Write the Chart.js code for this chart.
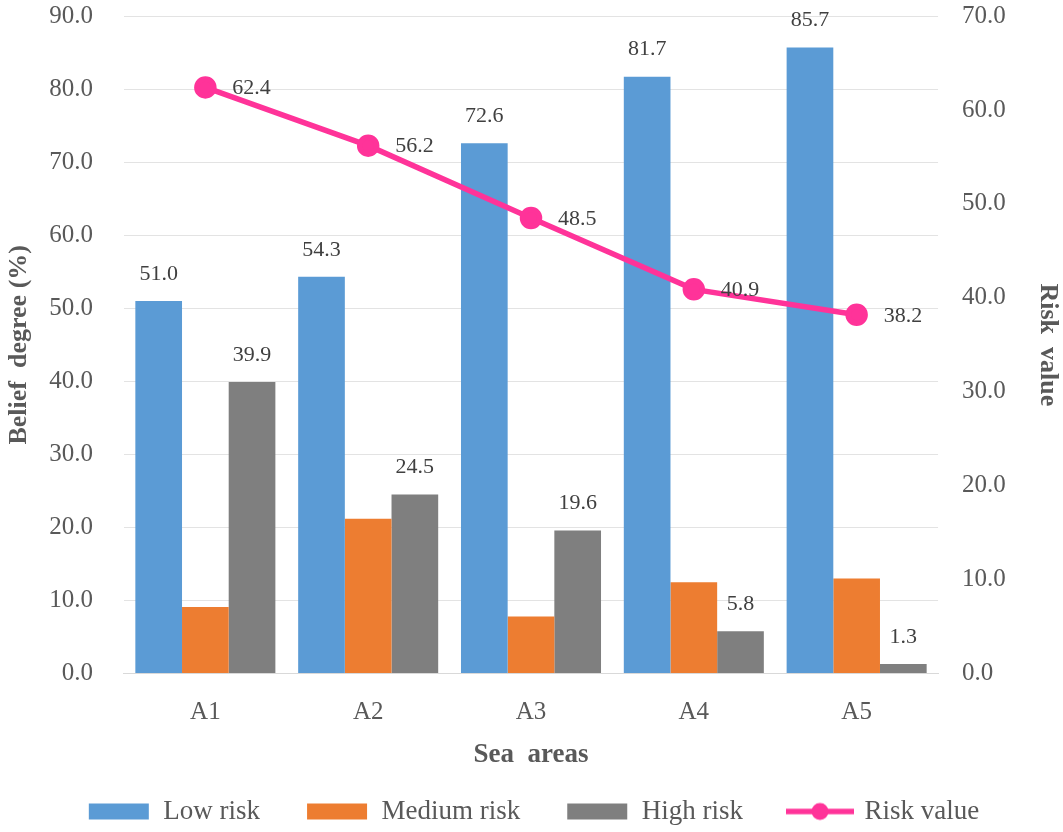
<!DOCTYPE html>
<html>
<head>
<meta charset="utf-8">
<script src="https://cdn.jsdelivr.net/npm/chart.js@4"></script>
<style>
  html, body { margin:0; padding:0; background:#fff; }
  #wrap { width:1063px; height:832px; position:relative; }
</style>
</head>
<body>
<div id="wrap"><canvas id="chart"></canvas></div>
<script>
// Sea areas and belief degrees (%) / risk value
const seaAreas = ['A1', 'A2', 'A3', 'A4', 'A5'];
const lowRisk = [51.0, 54.3, 72.6, 81.7, 85.7];
const mediumRisk = [9.1, 21.2, 7.8, 12.5, 13.0];
const highRisk = [39.9, 24.5, 19.6, 5.8, 1.3];
const riskValue = [62.4, 56.2, 48.5, 40.9, 38.2];

const SERIF = "'Liberation Serif', 'Times New Roman', serif";
const TEXT = '#595959';
const PINK = '#FF3399';

// legend swatches
function swatch(color, isLine) {
  const c = document.createElement('canvas');
  c.width = 68; c.height = 20;
  const g = c.getContext('2d');
  if (isLine) {
    g.strokeStyle = color; g.lineWidth = 5.5;
    g.beginPath(); g.moveTo(0, 10); g.lineTo(68, 10); g.stroke();
    g.fillStyle = color;
    g.beginPath(); g.arc(34, 10, 8.5, 0, Math.PI * 2); g.fill();
  } else {
    g.fillStyle = color;
    g.fillRect(4, 2, 60, 16);
  }
  return c;
}

// value labels drawn above bars / beside line points
const valueLabels = {
  id: 'valueLabels',
  afterDatasetsDraw(chart) {
    const ctx = chart.ctx;
    ctx.save();
    ctx.font = '22px ' + SERIF;
    ctx.fillStyle = '#404040';
    ctx.textBaseline = 'middle';
    chart.data.datasets.forEach((ds, di) => {
      if (!ds.showLabels) return;
      const meta = chart.getDatasetMeta(di);
      meta.data.forEach((el, i) => {
        const txt = ds.data[i].toFixed(1);
        if (ds.type === 'line') {
          ctx.textAlign = 'left';
          ctx.fillText(txt, el.x + 27, el.y + 1);
        } else {
          ctx.textAlign = 'center';
          ctx.fillText(txt, el.x, el.y - 27);
        }
      });
    });
    ctx.restore();
  }
};

new Chart(document.getElementById('chart'), {
  data: {
    labels: seaAreas,
    datasets: [
      {
        type: 'line', label: 'Risk value', data: riskValue, yAxisID: 'y1',
        borderColor: PINK, backgroundColor: PINK, borderWidth: 5.5,
        pointRadius: 8.5, pointBackgroundColor: PINK, pointBorderColor: PINK,
        tension: 0, order: 0, showLabels: true
      },
      { type: 'bar', label: 'Low risk', data: lowRisk, backgroundColor: '#5B9BD5', yAxisID: 'y', order: 1, showLabels: true },
      { type: 'bar', label: 'Medium risk', data: mediumRisk, backgroundColor: '#ED7D31', yAxisID: 'y', order: 1, showLabels: false },
      { type: 'bar', label: 'High risk', data: highRisk, backgroundColor: '#7F7F7F', yAxisID: 'y', order: 1, showLabels: true }
    ]
  },
  options: {
    responsive: true,
    maintainAspectRatio: false,
    animation: false,
    layout: { padding: { top: 0, left: 4, right: 0, bottom: -3 } },
    datasets: { bar: { categoryPercentage: 0.86, barPercentage: 1.0 } },
    plugins: {
      tooltip: { enabled: false },
      legend: {
        position: 'bottom',
        labels: {
          usePointStyle: true,
          pointStyleWidth: 62,
          padding: 46,
          color: TEXT,
          font: { family: SERIF, size: 27 },
          generateLabels(chart) {
            const order = [1, 2, 3, 0];
            return order.map(i => {
              const ds = chart.data.datasets[i];
              return {
                text: ds.label,
                fillStyle: ds.backgroundColor,
                strokeStyle: ds.backgroundColor,
                lineWidth: 0,
                pointStyle: swatch(ds.backgroundColor, ds.type === 'line'),
                fontColor: TEXT,
                datasetIndex: i,
                hidden: false
              };
            });
          }
        }
      }
    },
    scales: {
      x: {
        grid: { display: false },
        border: { color: '#d9d9d9' },
        ticks: { color: TEXT, font: { family: SERIF, size: 25 }, padding: 16 },
        title: { display: true, text: 'Sea  areas', color: TEXT, font: { family: SERIF, size: 27, weight: 'bold' }, padding: { top: -5, bottom: -19 } }
      },
      y: {
        position: 'left', min: 0, max: 90,
        ticks: { stepSize: 10, color: TEXT, font: { family: SERIF, size: 25 }, padding: 1, callback: v => v.toFixed(1) },
        grid: { color: '#e3e3e3', tickLength: 30, tickColor: 'transparent' },
        border: { display: false },
        title: { display: true, text: 'Belief  degree (%)', color: TEXT, font: { family: SERIF, size: 26, weight: 'bold' }, padding: { top: 0, bottom: 13 } }
      },
      y1: {
        position: 'right', min: 0, max: 70,
        ticks: { stepSize: 10, color: TEXT, font: { family: SERIF, size: 25 }, padding: 1, callback: v => v.toFixed(1) },
        grid: { drawOnChartArea: false, color: 'transparent', tickLength: 23 },
        border: { display: false },
        title: { display: true, text: 'Risk  value', color: TEXT, font: { family: SERIF, size: 26, weight: 'bold' }, padding: { top: 0, bottom: 25 } }
      }
    }
  },
  plugins: [valueLabels]
});
</script>
</body>
</html>
